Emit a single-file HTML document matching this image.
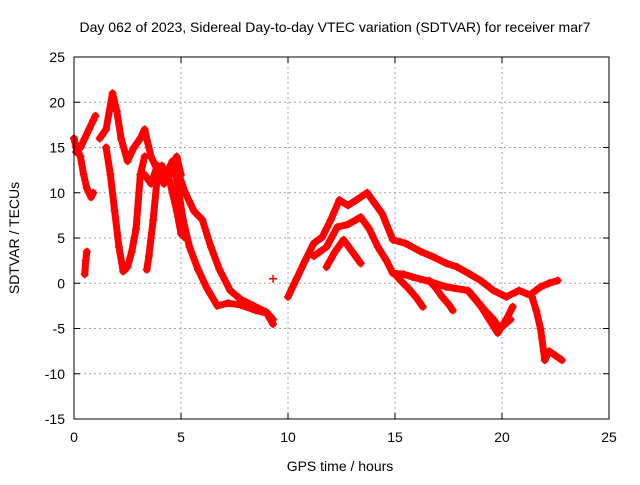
<!DOCTYPE html>
<html><head><meta charset="utf-8"><style>
body{margin:0;background:#fff}
svg text{font-family:"Liberation Sans",sans-serif;font-size:14px;fill:#000}
</style></head><body>
<svg id="chart" width="640" height="480" viewBox="0 0 640 480">
<rect width="640" height="480" fill="#fff"/>
<text x="335" y="32" text-anchor="middle">Day 062 of 2023, Sidereal Day-to-day VTEC variation (SDTVAR) for receiver mar7</text>
<text x="340" y="471" text-anchor="middle">GPS time / hours</text>
<text transform="translate(19,238) rotate(-90)" text-anchor="middle">SDTVAR / TECUs</text>
<g id="grid"></g><g id="marks"></g>
<rect x="74" y="57" width="535" height="362" fill="none" stroke="#000"/>
</svg>
<script>
const xTicks=[0,5,10,15,20,25];
const yTicks=[-15,-10,-5,0,5,10,15,20,25];
const arcA1x=[0,0.1,0.3,0.45,0.6,0.8,0.9];const arcA1y=[16,15,14,12,10.5,9.5,10];
const arcA2x=[0.1,0.3,0.5,0.7,0.9,1.0];const arcA2y=[14.5,15,16,17,18,18.5];
const arcA3x=[0.5,0.55,0.6];const arcA3y=[1,2.5,3.5];
const arcBx=[1.2,1.5,1.8,2.0,2.2,2.5,2.8,3.1,3.3,3.6,3.9,4.3,4.6,4.8];const arcBy=[16,17,21,19,16,13.5,15,16,17,14,12.5,12,13.5,13];
const arcV1x=[1.5,1.7,1.9,2.1,2.3,2.5,2.7,2.9,3.1,3.3];const arcV1y=[15,12,8,4,1.3,1.8,3.5,6,12,14];
const arcV2x=[3.4,3.5,3.7,3.9,4.1,4.3];const arcV2y=[1.5,3,7,12,13,12];
const arcK1x=[3.3,3.6,3.9,4.2,4.5,4.8,5.0];const arcK1y=[12,11,13,11,12,14,12];
const arcD1x=[4.7,4.9,5.1,5.4,5.8,6.2,6.7,7.2,7.8,8.5,9.0,9.3];const arcD1y=[13,10,7,4,1.5,-0.5,-2.5,-2.2,-2.4,-3,-3.3,-4.5];
const arcD2x=[4.9,5.2,5.6,6.0,6.4,6.8,7.3,7.8,8.4,9.0,9.3];const arcD2y=[12,10,8,7,4,1.5,-0.8,-1.8,-2.5,-3.2,-4];
const arcD3x=[4.4,4.6,4.8,5.0,5.2];const arcD3y=[12,10,8,5.5,5];
const arcPx=[9.3];const arcPy=[0.5];
const arcC1x=[10,10.4,10.8,11.2,11.6,12.0,12.4,12.8,13.2,13.7,14.0,14.4,14.9,15.5,16.2,16.8,17.4,17.9,18.5,19,19.6,20.2,20.8,21.3,21.8,22.2,22.6];
const arcC1y=[-1.5,0.5,2.5,4.4,5.1,7,9.2,8.6,9.2,10,9,7.7,4.8,4.4,3.5,2.9,2.2,1.8,1,0.3,-0.8,-1.5,-0.8,-1.3,-0.4,0,0.3];
const arcC2x=[11.2,11.8,12.3,12.8,13.4,13.8,14.2,14.6,14.9,15.4,15.8,16.6,17.4,18.4,19.0,19.8,20.2,20.5];
const arcC2y=[3,4,6.2,6.5,7.3,6,4,2.5,1.1,1,0.7,0.2,-0.4,-0.8,-2.5,-5.5,-4,-2.6];
const arcC3x=[11.8,12.2,12.6,13.0,13.4];const arcC3y=[1.8,3.5,4.8,3.5,2.2];
const arcC4x=[15,15.3,15.6,16.0,16.3];const arcC4y=[1,0.2,-0.5,-1.6,-2.6];
const arcC5x=[16.6,16.9,17.2,17.5,17.7];const arcC5y=[0.3,-0.5,-1.5,-2.3,-3];
const arcC6x=[18.5,19.2,19.6,19.9,20.4];const arcC6y=[-1,-3,-4,-5,-4];
const arcEx=[21.4,21.6,21.8,22.0,22.2,22.5,22.8];const arcEy=[-1.5,-3,-5,-8.5,-7.5,-8,-8.5];
const arcs=[[arcA1x,arcA1y],[arcA2x,arcA2y],[arcA3x,arcA3y],[arcBx,arcBy],[arcV1x,arcV1y],[arcV2x,arcV2y],[arcK1x,arcK1y],[arcD1x,arcD1y],[arcD2x,arcD2y],[arcD3x,arcD3y],[arcPx,arcPy],[arcC1x,arcC1y],[arcC2x,arcC2y],[arcC3x,arcC3y],[arcC4x,arcC4y],[arcC5x,arcC5y],[arcC6x,arcC6y],[arcEx,arcEy]];
const X0=74,X1=609,Y0=419,Y1=57;
const sx=v=>X0+(v-0)/25*(X1-X0);
const sy=v=>Y0-(v+15)/40*(Y0-Y1);
const NS="http://www.w3.org/2000/svg";
const grid=document.getElementById('grid'),marks=document.getElementById('marks');
function mk(t,a,p){const e=document.createElementNS(NS,t);for(const k in a)e.setAttribute(k,a[k]);p.appendChild(e);return e;}
xTicks.forEach(v=>{const x=sx(v);
 const g=mk('line',{x1:x,x2:x,y1:Y0,y2:Y1,stroke:'#a0a0a0','stroke-dasharray':'2,3'},grid);
 
 mk('line',{x1:x,x2:x,y1:Y0,y2:Y0-6,stroke:'#000'},grid);mk('line',{x1:x,x2:x,y1:Y1,y2:Y1+6,stroke:'#000'},grid);
 const t=mk('text',{x:x,y:Y0+23,'text-anchor':'middle'},grid);t.textContent=v;
 });
yTicks.forEach(v=>{const y=sy(v);
 const g=mk('line',{x1:X0,x2:X1,y1:y,y2:y,stroke:'#a0a0a0','stroke-dasharray':'2,3'},grid);
 
 mk('line',{x1:X0,x2:X0+6,y1:y,y2:y,stroke:'#000'},grid);mk('line',{x1:X1,x2:X1-6,y1:y,y2:y,stroke:'#000'},grid);
 const t=mk('text',{x:X0-9,y:y+5,'text-anchor':'end'},grid);t.textContent=v;
 });
arcs.forEach(([xs,ys])=>{
 const pts=xs.map((x,i)=>sx(x)+','+sy(ys[i])).join(' ');
 const pl=mk('polyline',{points:pts,fill:'none',stroke:'#f00','stroke-width':7,'stroke-linejoin':'round','stroke-linecap':'round'},marks);
 
 
 xs.forEach((x,i)=>{const cx=sx(x),cy=sy(ys[i]);
  const p=mk('path',{d:`M${cx-4},${cy}h8M${cx},${cy-4}v8`,stroke:'#f00','stroke-width':1.5},marks);
  
  });
});
</script>
</body></html>
